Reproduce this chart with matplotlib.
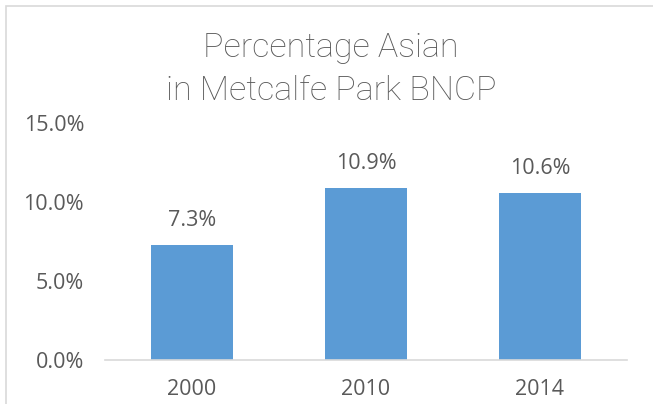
import matplotlib
matplotlib.use("Agg")
import matplotlib.pyplot as plt
from matplotlib.patches import Rectangle
from matplotlib.ticker import FuncFormatter

categories = ["2000", "2010", "2014"]
values = [7.3, 10.9, 10.6]
labels = ["7.3%", "10.9%", "10.6%"]
yticks = [0, 5, 10, 15]

W, H = 653, 404
fig = plt.figure(figsize=(W/100, H/100), dpi=100)
txt = "#595959"
fam = ["Open Sans", "DejaVu Sans"]

# chart frame
fig.patches.append(Rectangle((6/W, -0.1), 1.2, (H-6)/H + 0.1, transform=fig.transFigure,
                             fill=False, edgecolor="#D9D9D9", linewidth=1.2))

ax = fig.add_axes([105/W, (H-360)/H, (627-105)/W, (360-123)/H])
x = range(len(categories))
ax.bar(x, values, width=0.47, color="#5B9BD5")
ax.set_xlim(-0.5, 2.5)
ax.set_ylim(0, 15)
ax.set_yticks(yticks)
ax.yaxis.set_major_formatter(FuncFormatter(lambda v, p: f"{v:.1f}%"))
ax.set_xticks(list(x))
ax.set_xticklabels(categories)
for s in ["top", "right", "left"]:
    ax.spines[s].set_visible(False)
ax.spines["bottom"].set_color("#D9D9D9")
ax.spines["bottom"].set_linewidth(1.2)
ax.tick_params(axis="both", length=0, colors=txt, labelsize=15.5)
ax.tick_params(axis="y", pad=15)
ax.tick_params(axis="x", pad=14)
for lab in ax.get_xticklabels() + ax.get_yticklabels():
    lab.set_family(fam)
for xi, v, l in zip(x, values, labels):
    ax.annotate(l, (xi, v), xytext=(0, 10), textcoords="offset points",
                ha="center", va="bottom", color=txt, fontsize=15.5, family=fam)

tfam = ["Roboto", "DejaVu Sans"]
fig.text(331/W, 1 - 48/H, "Percentage Asian", ha="center", va="center",
         fontsize=24.5, color=txt, family=tfam, fontweight="light")
fig.text(331/W, 1 - 91/H, "in Metcalfe Park BNCP", ha="center", va="center",
         fontsize=24.5, color=txt, family=tfam, fontweight="light")

fig.savefig("out.png", dpi=100)
